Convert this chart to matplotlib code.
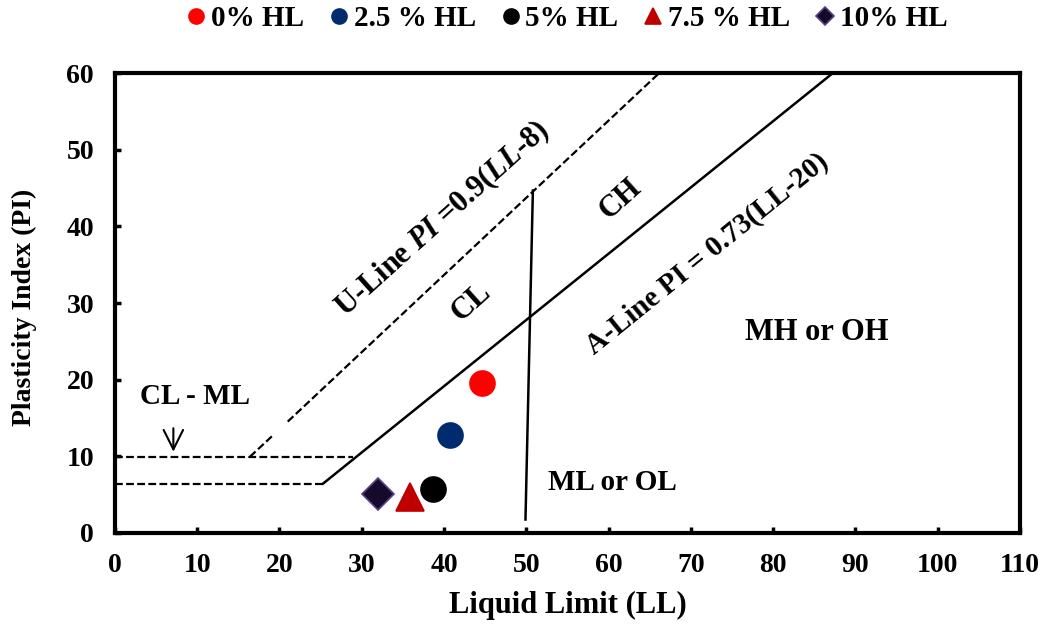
import matplotlib
matplotlib.use("Agg")
import matplotlib.pyplot as plt

plt.rcParams['font.family'] = ['Liberation Serif', 'DejaVu Serif']
plt.rcParams['font.weight'] = 'bold'
plt.rcParams['mathtext.fontset'] = 'custom'
plt.rcParams['mathtext.rm'] = 'Liberation Serif:bold'
plt.rcParams['mathtext.it'] = 'Liberation Serif:italic:bold'

# samples
hl_labels = ['0% HL', '2.5 % HL', '5% HL', '7.5 % HL', '10% HL']
ll_vals = [44.6, 40.7, 38.7, 35.9, 32.0]
pi_vals = [19.5, 12.8, 5.7, 4.7, 5.0]
face_colors = ['#ff0000', '#002b6e', '#000000', '#c00000', '#160a2c']
edge_colors = ['#ff0000', '#002b6e', '#000000', '#c00000', '#5a3f86']
markers = ['o', 'o', 'o', '^', 'D']
msizes = [18, 18, 18, 20, 16]

# chart lines as drawn in the figure
u_line_a = ([16.4, 19.2], [9.9, 12.7])
u_line_b = ([21.0, 66.1], [14.5, 60.0])
a_line = ([25.3, 87.2], [6.4, 60.0])
ll50_line = ([49.9, 50.8], [1.7, 44.7])
clml_top = ([0, 28.9], [9.9, 9.9])
clml_bot = ([0, 25.3], [6.4, 6.4])

fig = plt.figure(figsize=(10.45, 6.28), dpi=100)
ax = fig.add_axes([0.110, 0.152, 0.866, 0.731])

dash = dict(color='black', lw=1.6, dashes=(3.5, 1.5))
ax.plot(*u_line_a, **dash)
ax.plot(*u_line_b, **dash)
ax.plot(*clml_top, **dash)
ax.plot(*clml_bot, **dash)
ax.plot(*a_line, color='black', lw=1.8)
ax.plot(*ll50_line, color='black', lw=1.8)

for i in range(len(hl_labels)):
    ax.plot(ll_vals[i], pi_vals[i], ls='none', marker=markers[i], ms=msizes[i],
            mfc=face_colors[i], mec=edge_colors[i], mew=1.2, label=hl_labels[i], zorder=5)

fs = 22
ax.text(39.8, 41.0, r'U-Line $\mathit{PI}$ =0.9($\mathit{LL}$-$\mathit{8}$)', fontsize=fs,
        rotation=42, ha='center', va='center', rotation_mode='anchor')
ax.text(43.3, 30.1, 'CL', fontsize=fs, rotation=42, ha='center', va='center', rotation_mode='anchor')
ax.text(61.5, 43.6, 'CH', fontsize=fs, rotation=42, ha='center', va='center', rotation_mode='anchor')
ax.text(72.0, 36.4, 'A-Line PI = 0.73(LL-20)', fontsize=21, rotation=39,
        ha='center', va='center', rotation_mode='anchor')
ax.text(85.3, 26.2, 'MH or OH', fontsize=fs, ha='center', va='center')
ax.text(60.5, 6.5, 'ML or OL', fontsize=21, ha='center', va='center')
ax.text(9.7, 17.8, 'CL - ML', fontsize=21, ha='center', va='center')
ax.annotate('', xy=(7.1, 10.2), xytext=(7.1, 14.0),
            arrowprops=dict(arrowstyle='->,head_length=0.5,head_width=0.25', lw=1.5,
                            color='black', mutation_scale=28))

ax.set_xlim(0, 110)
ax.set_ylim(0, 60)
ax.set_xticks(range(0, 111, 10))
ax.set_yticks(range(0, 61, 10))
ax.tick_params(direction='in', length=4, width=2.5, labelsize=20, pad=15)
for lab in ax.get_xticklabels() + ax.get_yticklabels():
    lab.set_fontweight('bold')
for sp in ax.spines.values():
    sp.set_linewidth(3)

ax.set_xlabel('Liquid Limit (LL)', fontsize=22, fontweight='bold', labelpad=9)
ax.set_ylabel('Plasticity Index (PI)', fontsize=20, fontweight='bold')
ax.yaxis.set_label_coords(-0.086, 0.49)

leg = ax.legend(loc='center', bbox_to_anchor=(0.5, 1.12), ncol=5, frameon=False,
                fontsize=21, markerscale=0.6, handlelength=0.6, handletextpad=0.2,
                columnspacing=0.9, borderaxespad=0)

fig.savefig('out.png', dpi=100)
